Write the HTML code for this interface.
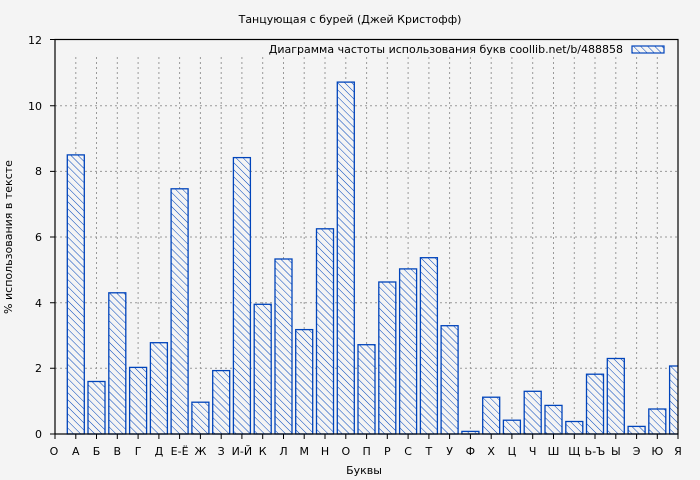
<!DOCTYPE html>
<html><head><meta charset="utf-8"><style>html,body{margin:0;padding:0;background:#f4f4f4}svg{display:block}text{font-family:"DejaVu Sans","Liberation Sans",sans-serif;font-size:11px;fill:#000}</style></head>
<body>
<svg width="700" height="480" viewBox="0 0 700 480" xmlns="http://www.w3.org/2000/svg">
<defs>
<pattern id="h" patternUnits="userSpaceOnUse" width="5" height="5" patternTransform="rotate(-45)">
<rect width="5" height="5" fill="#f4f4f4"/><line x1="0" y1="0" x2="0" y2="5" stroke="#0044bb" stroke-width="1"/>
</pattern>
<clipPath id="c"><rect x="55" y="39" width="623" height="396"/></clipPath>
</defs>
<rect width="700" height="480" fill="#f4f4f4"/>
<text x="350" y="23" text-anchor="middle">Танцующая с бурей (Джей Кристофф)</text>
<g stroke="#999" stroke-dasharray="2,3" stroke-width="1">
<line x1="55" x2="678" y1="368.3" y2="368.3"/><line x1="55" x2="678" y1="302.7" y2="302.7"/><line x1="55" x2="678" y1="237" y2="237"/><line x1="55" x2="678" y1="171.4" y2="171.4"/><line x1="55" x2="678" y1="105.7" y2="105.7"/>
<path d="M75.8 57V434M96.5 57V434M117.3 57V434M138.1 57V434M158.9 57V434M179.6 57V434M200.4 57V434M221.2 57V434M241.9 57V434M262.7 57V434M283.5 57V434M304.2 57V434M325 57V434M345.8 57V434M366.6 57V434M387.3 57V434M408.1 57V434M428.9 57V434M449.6 57V434M470.4 57V434M491.2 57V434M511.9 57V434M532.7 57V434M553.5 57V434M574.3 57V434M595 57V434M615.8 57V434M636.6 57V434M657.3 57V434"/>
</g>
<g fill="url(#h)" stroke="#0044bb" stroke-width="1.3" clip-path="url(#c)">
<rect x="67.3" y="154.9" width="17" height="279.1"/>
<rect x="88" y="381.5" width="17" height="52.5"/>
<rect x="108.8" y="292.8" width="17" height="141.2"/>
<rect x="129.6" y="367.4" width="17" height="66.6"/>
<rect x="150.4" y="342.7" width="17" height="91.3"/>
<rect x="171.1" y="188.8" width="17" height="245.2"/>
<rect x="191.9" y="402.2" width="17" height="31.8"/>
<rect x="212.7" y="370.6" width="17" height="63.4"/>
<rect x="233.4" y="157.6" width="17" height="276.4"/>
<rect x="254.2" y="304.3" width="17" height="129.7"/>
<rect x="275" y="259" width="17" height="175"/>
<rect x="295.7" y="329.6" width="17" height="104.4"/>
<rect x="316.5" y="228.8" width="17" height="205.2"/>
<rect x="337.3" y="82.1" width="17" height="351.9"/>
<rect x="358" y="344.7" width="17" height="89.3"/>
<rect x="378.8" y="282" width="17" height="152"/>
<rect x="399.6" y="268.9" width="17" height="165.1"/>
<rect x="420.4" y="257.7" width="17" height="176.3"/>
<rect x="441.1" y="325.7" width="17" height="108.3"/>
<rect x="461.9" y="431.4" width="17" height="2.6"/>
<rect x="482.7" y="397.2" width="17" height="36.8"/>
<rect x="503.4" y="420.2" width="17" height="13.8"/>
<rect x="524.2" y="391.3" width="17" height="42.7"/>
<rect x="545" y="405.4" width="17" height="28.6"/>
<rect x="565.8" y="421.5" width="17" height="12.5"/>
<rect x="586.5" y="374.2" width="17" height="59.8"/>
<rect x="607.3" y="358.5" width="17" height="75.5"/>
<rect x="628.1" y="426.4" width="17" height="7.6"/>
<rect x="648.8" y="409" width="17" height="25"/>
<rect x="669.6" y="366" width="17" height="68"/>
</g>
<rect x="55" y="39.5" width="623" height="394.5" fill="none" stroke="#000" stroke-width="1.2"/>
<g stroke="#000" stroke-width="1">
<path d="M50 434H55M50 368.3H55M50 302.7H55M50 237H55M50 171.4H55M50 105.7H55M50 39.5H55"/>
<path d="M55 434V439M75.8 434V439M96.5 434V439M117.3 434V439M138.1 434V439M158.9 434V439M179.6 434V439M200.4 434V439M221.2 434V439M241.9 434V439M262.7 434V439M283.5 434V439M304.2 434V439M325 434V439M345.8 434V439M366.6 434V439M387.3 434V439M408.1 434V439M428.9 434V439M449.6 434V439M470.4 434V439M491.2 434V439M511.9 434V439M532.7 434V439M553.5 434V439M574.3 434V439M595 434V439M615.8 434V439M636.6 434V439M657.3 434V439M678 434V439"/>
</g>
<g text-anchor="end">
<text x="42" y="438">0</text><text x="42" y="372">2</text><text x="42" y="307">4</text><text x="42" y="241">6</text><text x="42" y="175">8</text><text x="42" y="110">10</text><text x="42" y="44">12</text>
</g>
<g text-anchor="middle">
<text x="54" y="455">О</text><text x="75.8" y="455">А</text><text x="96.5" y="455">Б</text><text x="117.3" y="455">В</text><text x="138.1" y="455">Г</text><text x="158.9" y="455">Д</text><text x="179.6" y="455">Е-Ё</text><text x="200.4" y="455">Ж</text><text x="221.2" y="455">З</text><text x="241.9" y="455">И-Й</text><text x="262.7" y="455">К</text><text x="283.5" y="455">Л</text><text x="304.2" y="455">М</text><text x="325" y="455">Н</text><text x="345.8" y="455">О</text><text x="366.6" y="455">П</text><text x="387.3" y="455">Р</text><text x="408.1" y="455">С</text><text x="428.9" y="455">Т</text><text x="449.6" y="455">У</text><text x="470.4" y="455">Ф</text><text x="491.2" y="455">Х</text><text x="511.9" y="455">Ц</text><text x="532.7" y="455">Ч</text><text x="553.5" y="455">Ш</text><text x="574.3" y="455">Щ</text><text x="595" y="455">Ь-Ъ</text><text x="615.8" y="455">Ы</text><text x="636.6" y="455">Э</text><text x="657.3" y="455">Ю</text><text x="678" y="455">Я</text>
<text x="364" y="474">Буквы</text>
<text transform="translate(12,237) rotate(-90)">% использования в тексте</text>
</g>
<text x="623" y="53" text-anchor="end">Диаграмма частоты использования букв  coollib.net/b/488858</text>
<rect x="632" y="46" width="32" height="7" fill="url(#h)" stroke="#0044bb" stroke-width="1.2"/>
</svg>
</body></html>
